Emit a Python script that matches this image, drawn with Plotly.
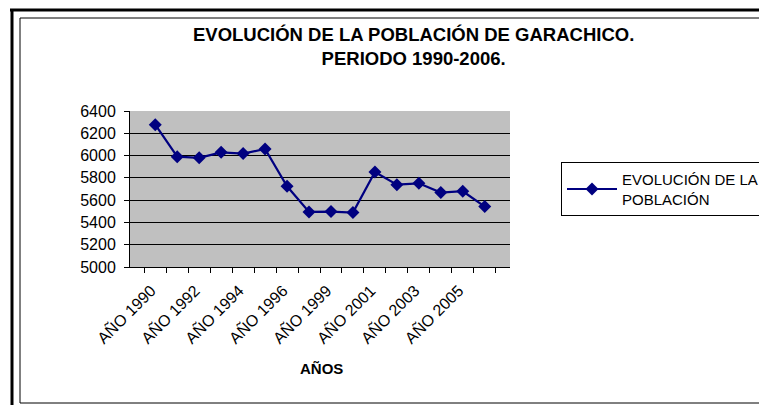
import plotly.graph_objects as go

years = ["AÑO 1990", "AÑO 1991", "AÑO 1992", "AÑO 1993", "AÑO 1994", "AÑO 1995",
         "AÑO 1996", "AÑO 1998", "AÑO 1999", "AÑO 2000", "AÑO 2001", "AÑO 2002",
         "AÑO 2003", "AÑO 2004", "AÑO 2005", "AÑO 2006"]
poblacion = [6277, 5990, 5980, 6029, 6018, 6059, 5724, 5494, 5497, 5489,
             5853, 5739, 5751, 5668, 5680, 5542]
tick_text = [y if i % 2 == 0 else "" for i, y in enumerate(years)]
y_ticks = [5000, 5200, 5400, 5600, 5800, 6000, 6200, 6400]

FONT = "Liberation Sans, Arial, sans-serif"

# page body has an 8px margin: target screen coords are shifted by OFF
OFF = 8
W, H = 767, 405
# target plot area on screen: x 130-510, y 111-267
L, T = 130 - OFF, 111 - OFF
R = W - (510 - OFF)
B = H - (267 - OFF)
pw, ph = W - L - R, H - T - B


def px(x):
    return (x - OFF - L) / pw


def py(y):
    return (H - B - (y - OFF)) / ph


fig = go.Figure()
fig.add_trace(go.Scatter(
    x=years, y=poblacion, mode="lines+markers",
    name="EVOLUCIÓN DE LA<br>POBLACIÓN",
    line=dict(color="#000080", width=2.2),
    marker=dict(symbol="diamond", size=10, color="#000080"),
))

fig.update_layout(
    width=W, height=H,
    margin=dict(l=L, r=R, t=T, b=B, autoexpand=False),
    paper_bgcolor="white",
    plot_bgcolor="#C0C0C0",
    font=dict(family=FONT, size=15, color="black"),
    showlegend=True,
    legend=dict(
        x=px(561), y=py(162), xanchor="left", yanchor="top",
        bordercolor="black", borderwidth=1, bgcolor="white",
        itemwidth=50,
        font=dict(family=FONT, size=15, color="black"),
    ),
    xaxis=dict(
        type="category", tickvals=years, ticktext=tick_text, automargin=False,
        tickangle=-45, ticks="outside", tickson="boundaries",
        ticklen=5, tickcolor="black", showline=True, linecolor="black",
        linewidth=1, showgrid=False, tickfont=dict(size=16),
        ticklabelshift=-4, ticklabelstandoff=7,
    ),
    yaxis=dict(
        range=[5000, 6400], tickvals=y_ticks, ticks="outside", ticklen=5,
        automargin=False, ticklabelstandoff=5,
        tickcolor="black", showline=True, linecolor="black", linewidth=1,
        showgrid=True, gridcolor="black", gridwidth=1, zeroline=False,
        tickfont=dict(size=16),
    ),
    annotations=[
        dict(text="<b>EVOLUCIÓN DE LA POBLACIÓN DE GARACHICO.<br>PERIODO 1990-2006.</b>",
             x=px(413), y=py(47), xref="paper", yref="paper",
             xanchor="center", yanchor="middle", showarrow=False,
             font=dict(family=FONT, size=18.5, color="black")),
        dict(text="<b>AÑOS</b>", x=px(321), y=py(368), xref="paper", yref="paper",
             xanchor="center", yanchor="middle", showarrow=False,
             font=dict(family=FONT, size=15, color="black")),
    ],
    shapes=[
        dict(type="line", xref="paper", yref="paper", x0=px(12), x1=px(12),
             y0=py(10), y1=py(420), line=dict(color="black", width=3)),
        dict(type="line", xref="paper", yref="paper", x0=px(10), x1=px(800),
             y0=py(10), y1=py(10), line=dict(color="black", width=3)),
        dict(type="rect", xref="paper", yref="paper", x0=px(20), x1=px(800),
             y0=py(18), y1=py(403), line=dict(color="black", width=1)),
    ],
)

fig.write_html("out.html")
